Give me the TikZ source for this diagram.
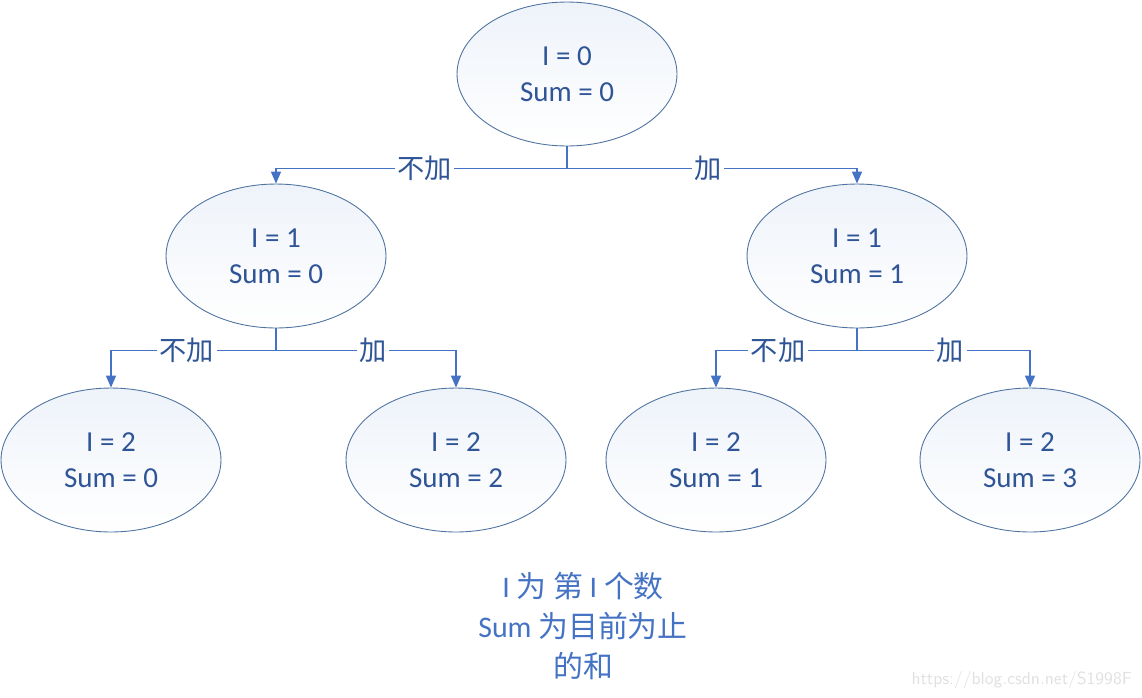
\documentclass[tikz,border=0pt]{standalone}
\usepackage{fontspec}
\setmainfont{Carlito}
\newfontfamily\cjk{Noto Sans CJK SC}
\usetikzlibrary{shapes.geometric,arrows.meta}
\definecolor{linkblue}{HTML}{4472C4}
\definecolor{txtblue}{HTML}{2F5597}
\definecolor{rimblue}{HTML}{4F73A0}
\definecolor{fillblue}{HTML}{EEF3FA}

\begin{document}
\begin{tikzpicture}[x=0.02cm,y=-0.02cm,>={Triangle[length=0.24cm,width=0.2cm]},
  state/.style={ellipse,draw=rimblue,line width=0.5pt,top color=fillblue,bottom color=white,
    minimum width=4.4cm,minimum height=2.88cm,inner sep=0pt,align=center,
    text=txtblue,font=\fontsize{16.5}{20.5}\selectfont},
  link/.style={draw=linkblue,line width=0.9pt},
  lab/.style={fill=white,inner sep=1.5pt,text=txtblue,font=\cjk\fontsize{15.5}{18}\selectfont}]
  \useasboundingbox (0,0) rectangle (1142,697);
  % tree
  \node[state] (n0) at (567,74) {I = 0\\Sum = 0};
  \node[state] (n1l) at (276,256) {I = 1\\Sum = 0};
  \node[state] (n1r) at (857,256) {I = 1\\Sum = 1};
  \node[state] (n2a) at (111,460) {I = 2\\Sum = 0};
  \node[state] (n2b) at (456,460) {I = 2\\Sum = 2};
  \node[state] (n2c) at (716,460) {I = 2\\Sum = 1};
  \node[state] (n2d) at (1030,460) {I = 2\\Sum = 3};
  % connectors
  \draw[link] (n0.south) -- ++(0,22) coordinate (j0);
  \draw[link,->] (j0) -| node[lab,pos=0.245] {不加} (n1l.north);
  \draw[link,->] (j0) -| node[lab,pos=0.243] {加} (n1r.north);
  \draw[link] (n1l.south) -- ++(0,22) coordinate (j1);
  \draw[link,->] (j1) -| node[lab,pos=0.27] {不加} (n2a.north);
  \draw[link,->] (j1) -| node[lab,pos=0.27] {加} (n2b.north);
  \draw[link] (n1r.south) -- ++(0,22) coordinate (j2);
  \draw[link,->] (j2) -| node[lab,pos=0.28] {不加} (n2c.north);
  \draw[link,->] (j2) -| node[lab,pos=0.27] {加} (n2d.north);
  % note
  \node[align=center,text=linkblue,font=\fontsize{17}{22.8}\selectfont] (note) at (583,626)
    {I {\cjk 为 第} I {\cjk 个数}\\Sum {\cjk 为目前为止}\\{\cjk 的和}};
  \node[anchor=east,text=black!12,font=\sffamily\fontsize{10}{12}\selectfont] (mark) at (1138,680)
    {https://blog.csdn.net/S1998F};
\end{tikzpicture}
\end{document}
